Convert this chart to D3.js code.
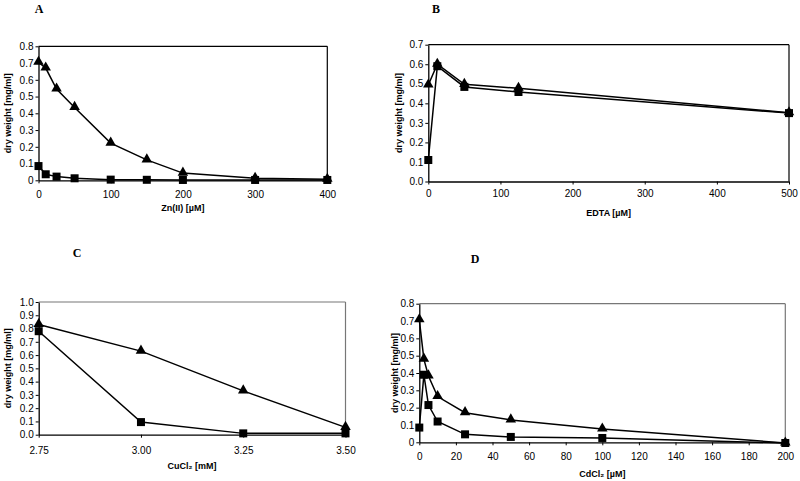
<!DOCTYPE html>
<html><head><meta charset="utf-8">
<script src="https://cdn.jsdelivr.net/npm/d3@7"></script>
<style>
body{margin:0;background:#fff;}
svg{display:block;}
.tick text{font-family:"Liberation Sans",Arial,sans-serif;font-size:10px;fill:#000;}
.ttl{font-family:"Liberation Sans",Arial,sans-serif;font-size:9px;font-weight:bold;fill:#000;}
.letter{font-family:"Liberation Serif","Times New Roman",serif;font-size:12px;font-weight:bold;fill:#000;}
</style></head><body>
<svg id="c" width="800" height="481"></svg>
<script>
// Panel A: Zn(II)
const znX = [0, 10, 25, 50, 100, 150, 200, 300, 400];
const znTri = [0.705, 0.67, 0.545, 0.435, 0.222, 0.122, 0.043, 0.012, 0.006];
const znSq = [0.085, 0.036, 0.022, 0.012, 0.004, 0.003, 0.002, 0.002, 0.002];
const znXTicks = [0, 100, 200, 300, 400];
const znYTicks = [0, 0.1, 0.2, 0.3, 0.4, 0.5, 0.6, 0.7, 0.8];
// Panel B: EDTA
const edtaX = [0, 12.5, 50, 125, 500];
const edtaTri = [0.494, 0.60, 0.497, 0.477, 0.352];
const edtaSq = [0.11, 0.59, 0.484, 0.458, 0.35];
const edtaXTicks = [0, 100, 200, 300, 400, 500];
const edtaYTicks = [0, 0.1, 0.2, 0.3, 0.4, 0.5, 0.6, 0.7];
// Panel C: CuCl2
const cuX = [2.75, 3.00, 3.25, 3.50];
const cuTri = [0.83, 0.63, 0.33, 0.055];
const cuSq = [0.78, 0.095, 0.01, 0.01];
const cuXTicks = [2.75, 3.00, 3.25, 3.50];
const cuYTicks = [0, 0.1, 0.2, 0.3, 0.4, 0.5, 0.6, 0.7, 0.8, 0.9, 1.0];
// Panel D: CdCl2
const cdX = [0, 2.5, 5, 10, 25, 50, 100, 200];
const cdTri = [0.707, 0.48, 0.383, 0.264, 0.171, 0.129, 0.077, -0.004];
const cdSq = [0.085, 0.39, 0.215, 0.12, 0.046, 0.031, 0.025, -0.004];
const cdXTicks = [0, 20, 40, 60, 80, 100, 120, 140, 160, 180, 200];
const cdYTicks = [0, 0.1, 0.2, 0.3, 0.4, 0.5, 0.6, 0.7, 0.8];

const svg = d3.select("#c");

function panel(o){
  const g = svg.append("g");
  const x = d3.scaleLinear().domain(o.xd).range([o.l, o.r]);
  const y = d3.scaleLinear().domain(o.yd).range([o.b, o.t]);
  // frame top/right
  g.append("line").attr("x1",o.l).attr("x2",o.r).attr("y1",o.t).attr("y2",o.t)
    .attr("stroke",o.frameCol).attr("stroke-width",1.2);
  g.append("line").attr("x1",o.r).attr("x2",o.r).attr("y1",o.t).attr("y2",o.b)
    .attr("stroke",o.frameCol).attr("stroke-width",1.2);
  const xa = g.append("g").attr("transform",`translate(0,${o.b})`)
    .call(d3.axisBottom(x).tickValues(o.xt).tickSize(3).tickSizeOuter(0).tickPadding(o.xpad).tickFormat(o.xf));
  const ya = g.append("g").attr("transform",`translate(${o.l},0)`)
    .call(d3.axisLeft(y).tickValues(o.yt).tickSize(3).tickSizeOuter(0).tickPadding(2).tickFormat(o.yf));
  [xa,ya].forEach(a=>{a.select(".domain").attr("stroke","#000").attr("stroke-width",1.3);
    a.selectAll(".tick line").attr("stroke","#000");});
  const line = d3.line().x((d,i)=>x(o.xs[i])).y(d=>y(d));
  [o.sq, o.tri].forEach(s=>{
    g.append("path").datum(s).attr("d",line).attr("fill","none").attr("stroke","#000").attr("stroke-width",1.5);
  });
  g.selectAll("rect.m").data(o.sq).enter().append("rect")
    .attr("x",(d,i)=>x(o.xs[i])-4).attr("y",d=>y(d)-4).attr("width",8).attr("height",8).attr("fill","#000");
  const tri = d3.symbol().type(d3.symbolTriangle).size(48);
  g.selectAll("path.t").data(o.tri).enter().append("path")
    .attr("d",tri).attr("transform",(d,i)=>`translate(${x(o.xs[i])},${y(d)-0.5})`).attr("fill","#000");
  // titles
  g.append("text").attr("class","ttl").attr("text-anchor","middle")
    .attr("x",(o.l+o.r)/2).attr("y",o.xty).text(o.xtitle);
  g.append("text").attr("class","ttl").attr("text-anchor","middle")
    .attr("transform",`translate(${o.ytx},${(o.t+o.b)/2}) rotate(-90)`).text("dry weight [mg/ml]");
  g.append("text").attr("class","letter").attr("text-anchor","middle")
    .attr("x",o.lx).attr("y",o.ly).text(o.letter);
}

const fmtA = d => d===0 ? "0" : d3.format(".1f")(d);

panel({l:38.5,r:327.3,t:46.3,b:180.3,xd:[0,400],yd:[0,0.8],xs:znX,tri:znTri,sq:znSq,
  xt:znXTicks,yt:znYTicks,xf:d3.format("d"),yf:fmtA,xpad:8,xty:211,xtitle:"Zn(II) [µM]",
  ytx:11,frameCol:"#000",letter:"A",lx:39,ly:13});
panel({l:428.3,r:789,t:44.7,b:181.5,xd:[0,500],yd:[0,0.7],xs:edtaX,tri:edtaTri,sq:edtaSq,
  xt:edtaXTicks,yt:edtaYTicks,xf:d3.format("d"),yf:d3.format(".1f"),xpad:5,xty:216,xtitle:"EDTA [µM]",
  ytx:402,frameCol:"#000",letter:"B",lx:436,ly:13});
panel({l:38.7,r:345.5,t:302,b:434.7,xd:[2.75,3.5],yd:[0,1.0],xs:cuX,tri:cuTri,sq:cuSq,
  xt:cuXTicks,yt:cuYTicks,xf:d3.format(".2f"),yf:d3.format(".1f"),xpad:9,xty:469,xtitle:"CuCl₂ [mM]",
  ytx:11,frameCol:"#777",letter:"C",lx:77,ly:257});
panel({l:419.3,r:785.3,t:303.7,b:442.3,xd:[0,200],yd:[0,0.8],xs:cdX,tri:cdTri,sq:cdSq,
  xt:cdXTicks,yt:cdYTicks,xf:d3.format("d"),yf:fmtA,xpad:8,xty:477,xtitle:"CdCl₂ [µM]",
  ytx:398,frameCol:"#777",letter:"D",lx:475,ly:263});
</script>
</body></html>
